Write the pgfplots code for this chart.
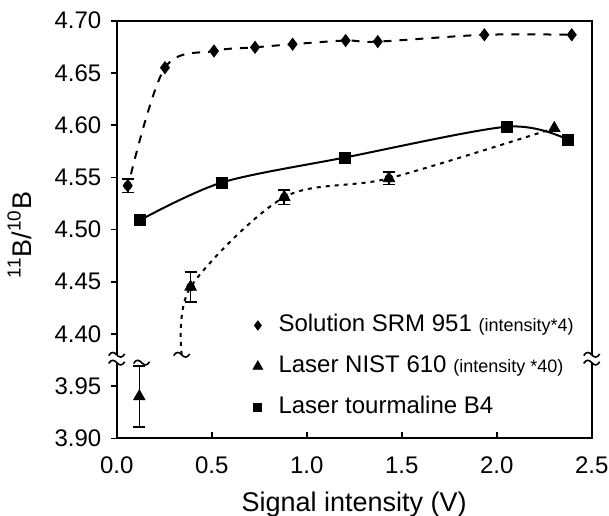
\documentclass[border=0pt]{standalone}
\usepackage{fontspec}
\setmainfont{Liberation Sans}
\usepackage{pgfplots}
\usepackage{pgfplotstable}
\pgfplotsset{compat=1.18}

% Solution SRM 951 (diamonds)
\pgfplotstableread{
x y
0.058 4.542
0.254 4.655
0.512 4.671
0.728 4.6745
0.926 4.6775
1.205 4.681
1.374 4.680
1.935 4.6865
2.395 4.6865
}\srm
% Laser NIST 610 (triangles), upper segment
\pgfplotstableread{
x y
0.389 4.445
0.882 4.531
1.433 4.549
2.303 4.597
}\nist
% Laser tourmaline B4 (squares)
\pgfplotstableread{
x y
0.123 4.509
0.553 4.545
1.202 4.569
2.056 4.5985
2.374 4.586
}\tour
% error bars (real values)
\pgfplotstableread{
x y e
0.058 4.542 0.0066
0.389 4.445 0.0144
0.882 4.531 0.0069
1.433 4.549 0.0060
}\errs
% lower broken segment: NIST 610 first point (real value)
\pgfplotstableread{
x y e
0.119 3.940 0.029
}\low

\newcommand{\smallfnt}{\fontsize{9}{10}\selectfont}
\newcommand{\legendfnt}{\fontsize{12}{14}\selectfont}
\newcommand{\tickfnt}{\fontsize{12}{14}\selectfont}
\newcommand{\tld}[1]{\draw[line width=0.8pt, solid, shift={(#1)}] (-4pt,-0.4pt) .. controls (-2.6pt,1.9pt) and (-1.2pt,1.3pt) .. (0pt,0pt) .. controls (1.2pt,-1.3pt) and (2.6pt,-1.9pt) .. (4pt,0.4pt);}

\begin{document}
\begin{tikzpicture}
\path[use as bounding box] (-58.35pt,-38.35pt) rectangle (246.15pt,219.15pt);
\begin{axis}[
  scale only axis, width=237.5pt, height=208.8pt,
  at={(0,0)}, anchor=south west,
  clip=false,
  xmin=0, xmax=2.5, ymin=4.30, ymax=4.70,
  xtick={0,0.5,1,1.5,2,2.5},
  xticklabels={0.0,0.5,1.0,1.5,2.0,2.5},
  ytick={4.30,4.35,4.40,4.45,4.50,4.55,4.60,4.65,4.70},
  yticklabels={3.90,3.95,4.40,4.45,4.50,4.55,4.60,4.65,4.70},
  xtick pos=bottom, ytick pos=left,
  tick align=inside, major tick length=3pt,
  every tick/.style={black, line width=0.8pt},
  ytick style={xshift=-3pt},
  axis line style={line width=0.9pt},
  tick label style={font=\tickfnt},
  xticklabel style={inner sep=0pt, anchor=north, yshift=-9.2pt},
  yticklabel style={inner sep=0pt, anchor=east, xshift=-7.5pt},
  xlabel={Signal intensity (V)},
  ylabel={\textsuperscript{11}B/\textsuperscript{10}B},
  xlabel style={font=\fontsize{13.5}{15}\selectfont, at={(axis description cs:0.5,0)}, anchor=base, yshift=-36.7pt},
  ylabel style={font=\fontsize{13.5}{15}\selectfont, at={(axis description cs:-0.205,0.487)}, anchor=center},
  legend cell align=left,
  legend image code/.code={\draw[mark repeat=2,mark phase=2,#1] plot coordinates {(0cm,0cm) (0.15cm,0cm) (0.3cm,0cm)};},
  legend style={draw=none, fill=none, inner sep=0pt, outer sep=0pt,
    at={(rel axis cs:0.287,0.172)}, anchor=west,
    font=\legendfnt, row sep=8.5pt, column sep=7.9pt,
    nodes={inner sep=0pt, text height=9pt, text depth=3pt}},
]
% curves
\addplot[forget plot, smooth, tension=0.55, line width=1pt, dash pattern=on 4pt off 4pt]
  coordinates {(0.075,4.553) (0.254,4.655) (0.512,4.671) (0.728,4.6745) (0.926,4.6775) (1.205,4.681) (1.374,4.680) (1.935,4.6865) (2.395,4.6865)};
\addplot[forget plot, smooth, tension=0.5, line width=1pt, dash pattern=on 2pt off 2.5pt]
  coordinates {(0.342,4.380) (0.389,4.445) (0.882,4.531) (1.433,4.549) (2.303,4.597)};
\addplot[forget plot, line width=1pt, dash pattern=on 2pt off 2.5pt]
  table[x=x, y expr=\thisrow{y}+0.40] {\low};
\addplot[forget plot, smooth, tension=0.5, line width=1pt]
  coordinates {(0.123,4.509) (0.553,4.545) (1.202,4.569) (2.056,4.5985) (2.374,4.586)};
% error bars
\addplot[forget plot, only marks, mark=none, black,
  error bars/.cd, y dir=both, y explicit,
  error bar style={line width=0.8pt, solid},
  error mark options={rotate=90, line width=0.8pt, mark size=3pt, solid}]
  table[x=x, y=y, y error=e] {\errs};
\addplot[forget plot, only marks, mark=triangle*, mark size=3.3pt, black,
  error bars/.cd, y dir=both, y explicit,
  error bar style={line width=0.8pt, solid},
  error mark options={rotate=90, line width=0.8pt, mark size=3pt, solid}]
  table[x=x, y expr=\thisrow{y}+0.40, y error=e] {\low};
% markers
\addplot[only marks, mark=diamond*, mark size=3pt, black, legend image post style={mark size=2.3pt}] table[x=x,y=y] {\srm};
\addlegendentry{\legendfnt Solution SRM 951 {\smallfnt (intensity*4)}}
\addplot[only marks, mark=triangle*, mark size=3.3pt, black, legend image post style={mark size=2.8pt}] table[x=x,y=y] {\nist};
\addlegendentry{\legendfnt Laser NIST 610 {\smallfnt (intensity *40)}}
\addplot[only marks, mark=square*, mark size=2.75pt, black, legend image post style={mark size=2pt}] table[x=x,y=y] {\tour};
\addlegendentry{\legendfnt Laser tourmaline B4}
% break positions
\coordinate (La) at (axis cs:0,4.380);
\coordinate (Lb) at (axis cs:0,4.3725);
\coordinate (Ra) at (axis cs:2.5,4.380);
\coordinate (Rb) at (axis cs:2.5,4.3725);
\coordinate (Ca) at (axis cs:0.342,4.380);
\coordinate (Cb) at (axis cs:0.131,4.3725);
\end{axis}
% axis breaks
\fill[white] ([xshift=-1.5pt]Lb) rectangle ([xshift=1.5pt]La);
\fill[white] ([xshift=-1.5pt]Rb) rectangle ([xshift=1.5pt]Ra);
\tld{La}
\tld{Lb}
\tld{Ra}
\tld{Rb}
\tld{Ca}
\tld{Cb}
\end{tikzpicture}
\end{document}
